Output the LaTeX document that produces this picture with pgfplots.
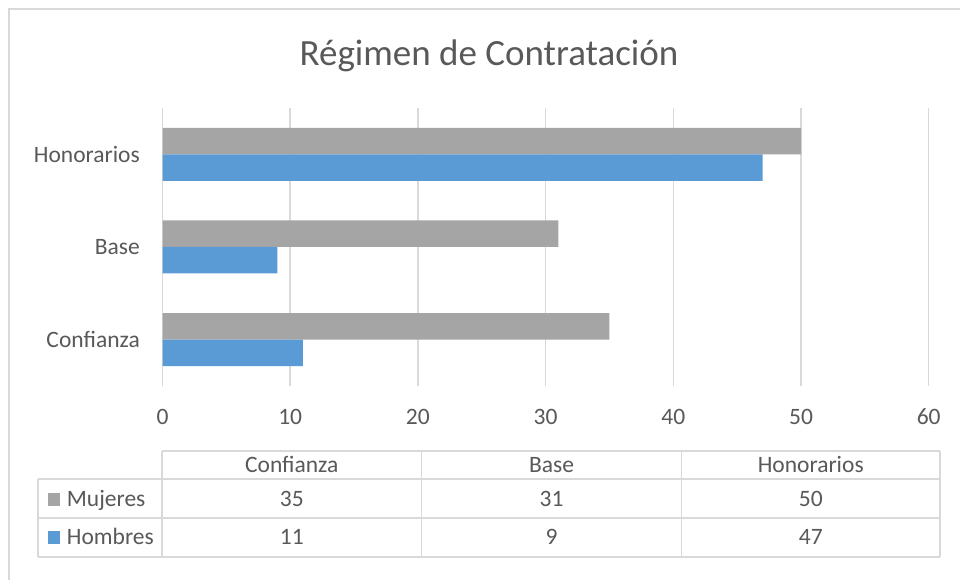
\documentclass[border=0pt]{standalone}
\usepackage{fontspec}
\setmainfont{Carlito}
\usepackage{pgfplots}
\pgfplotsset{compat=1.18}
\definecolor{gbar}{HTML}{A5A5A5}
\definecolor{bbar}{HTML}{5B9BD5}
\definecolor{txt}{HTML}{595959}
\definecolor{gridc}{HTML}{D9D9D9}
\begin{document}
\begin{tikzpicture}[x=1pt,y=1pt]
\path[use as bounding box] (0,0) rectangle (960,580);
\fill[white] (0,0) rectangle (960,580);
\draw[gridc, line width=1.5pt] (9,-5) -- (9,571) -- (965,571);
\node[anchor=base, text=txt, inner sep=0pt, font=\fontsize{37}{44}\selectfont] at (489,514) {Régimen de Contratación};
\begin{axis}[
  at={(162.5pt,194pt)}, anchor=south west,
  scale only axis, width=766.2pt, height=278pt,
  xmin=0, xmax=60, ymin=-0.5, ymax=2.5,
  xbar, bar width=26.5pt,
  xtick={0,10,...,60}, ytick={0,1,2},
  yticklabels={Confianza,Base,Honorarios},
  xmajorgrids, major grid style={gridc, line width=1.5pt},
  axis line style={draw=none}, major tick length=0pt,
  /pgf/number format/assume math mode=true,
  tick label style={text=txt, inner sep=0pt, font=\fontsize{23.5}{28}\selectfont},
  xticklabel style={anchor=base, yshift=-39pt},
  yticklabel style={anchor=base east, yshift=-8pt, xshift=-22.5pt},
]
\addplot[draw=none, fill=gbar, bar shift=13.25pt] coordinates {(35,0) (31,1) (50,2)};
\addplot[draw=none, fill=bbar, bar shift=-13.25pt] coordinates {(11,0) (9,1) (47,2)};
\end{axis}
% data table
\begin{scope}[gridc, line width=1.5pt]
\draw (162,129) -- (940,129);
\draw (38,101) -- (940,101);
\draw (38,62) -- (940,62);
\draw (38,23) -- (940,23);
\draw (38,101) -- (38,23);
\draw (162,129) -- (162,23);
\draw (421.5,129) -- (421.5,23);
\draw (681.5,129) -- (681.5,23);
\draw (940,129) -- (940,23);
\end{scope}
\begin{scope}[every node/.style={text=txt, inner sep=0pt, anchor=base, font=\fontsize{23.5}{28}\selectfont}]
\node at (291.75,107.7) {Confianza};
\node at (551.5,107.7) {Base};
\node at (810.75,107.7) {Honorarios};
\node at (291.75,73.8) {35};
\node at (551.5,73.8) {31};
\node at (810.75,73.8) {50};
\node at (291.75,35) {11};
\node at (551.5,35) {9};
\node at (810.75,35) {47};
\fill[gbar] (48,74.3) rectangle (60,86.7);
\fill[bbar] (48,36) rectangle (60,49.3);
\node[anchor=base west] at (66.7,73.8) {Mujeres};
\node[anchor=base west] at (66.7,35) {Hombres};
\end{scope}
\end{tikzpicture}
\end{document}
